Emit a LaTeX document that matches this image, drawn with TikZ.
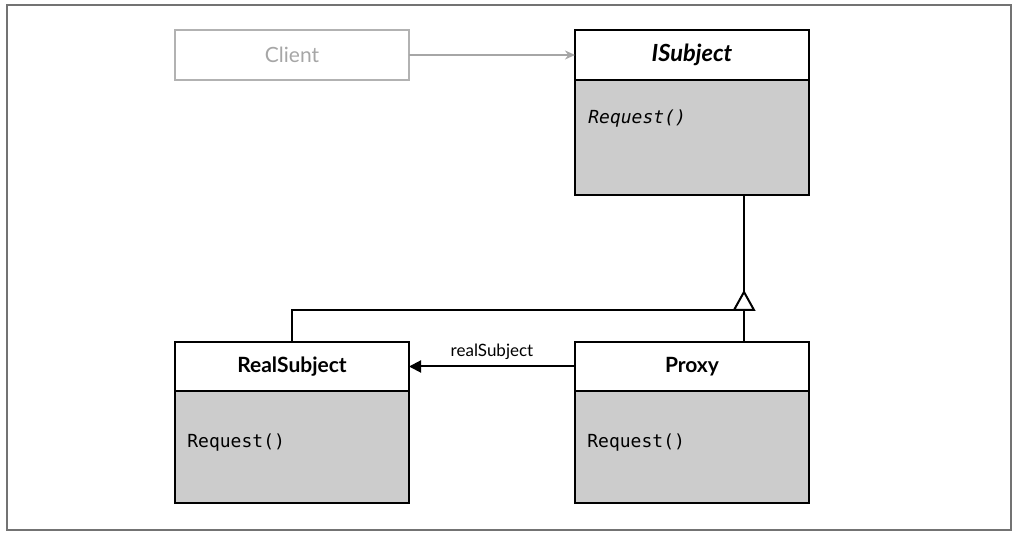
\documentclass[tikz,border=0pt]{standalone}
\usepackage{fontspec}
\setmainfont{Lato}
\setmonofont{DejaVu Sans Mono}
\usetikzlibrary{arrows.meta}

\begin{document}
\begin{tikzpicture}[x=0.5pt,y=-0.5pt]
\useasboundingbox (0,0) rectangle (1019,539);
\draw[black!55,line width=1pt] (7,5) rectangle (1011,530);

\begin{scope}[every node/.style={rectangle,draw,line width=1.3pt,outer sep=0pt,inner sep=0pt,minimum width=117pt}]
    \node[draw=black!30,text=black!35,minimum height=25pt,font=\fontsize{10.5}{13}\selectfont] (client) at (292,55) {Client};
    \node[fill=white,minimum height=25pt,font=\fontsize{11.8}{13}\selectfont\bfseries\itshape] (ishead) at (692,55) {ISubject};
    \node[fill=black!20,minimum height=57.5pt,anchor=north] (isbody) at (ishead.south) {};
    \node[fill=white,minimum height=24.5pt,font=\fontsize{10.5}{13}\selectfont\bfseries] (rshead) at (292,366.5) {RealSubject};
    \node[fill=black!20,minimum height=56pt,anchor=north] (rsbody) at (rshead.south) {};
    \node[fill=white,minimum height=24.5pt,font=\fontsize{10.5}{13}\selectfont\bfseries] (pxhead) at (692,366.5) {Proxy};
    \node[fill=black!20,minimum height=56pt,anchor=north] (pxbody) at (pxhead.south) {};
\end{scope}

\begin{scope}[every node/.style={anchor=west,inner sep=0pt,font=\ttfamily\fontsize{9}{11}\selectfont}]
    \node (isreq) at (588,119) {\itshape Request()};
    \node (rsreq) at (187,443) {Request()};
    \node (pxreq) at (587,443) {Request()};
\end{scope}

\coordinate (apex) at (744,292);
\coordinate (inh) at (744,310);

\begin{scope}[every edge/.style={draw,line width=1pt}]
    \path [-{Stealth[length=5pt,width=4.5pt]},black!35] (client) edge (ishead);
    \path [-{Triangle[length=6pt,width=6pt]}] (pxhead) edge node[above,inner sep=3pt,font=\fontsize{8.5}{10}\selectfont] (rslabel) {realSubject} (rshead);
    \path [-] (isbody.south -| apex) edge (apex);
    \path [-] (pxhead.north -| inh) edge (inh);
    \path [-] (rshead.north) edge[to path={|- (\tikztotarget)}] (inh);
\end{scope}
\draw[line width=1pt,fill=white,line join=miter] (apex) -- ++(-10,18) -- ++(20,0) -- cycle;
\end{tikzpicture}
\end{document}
